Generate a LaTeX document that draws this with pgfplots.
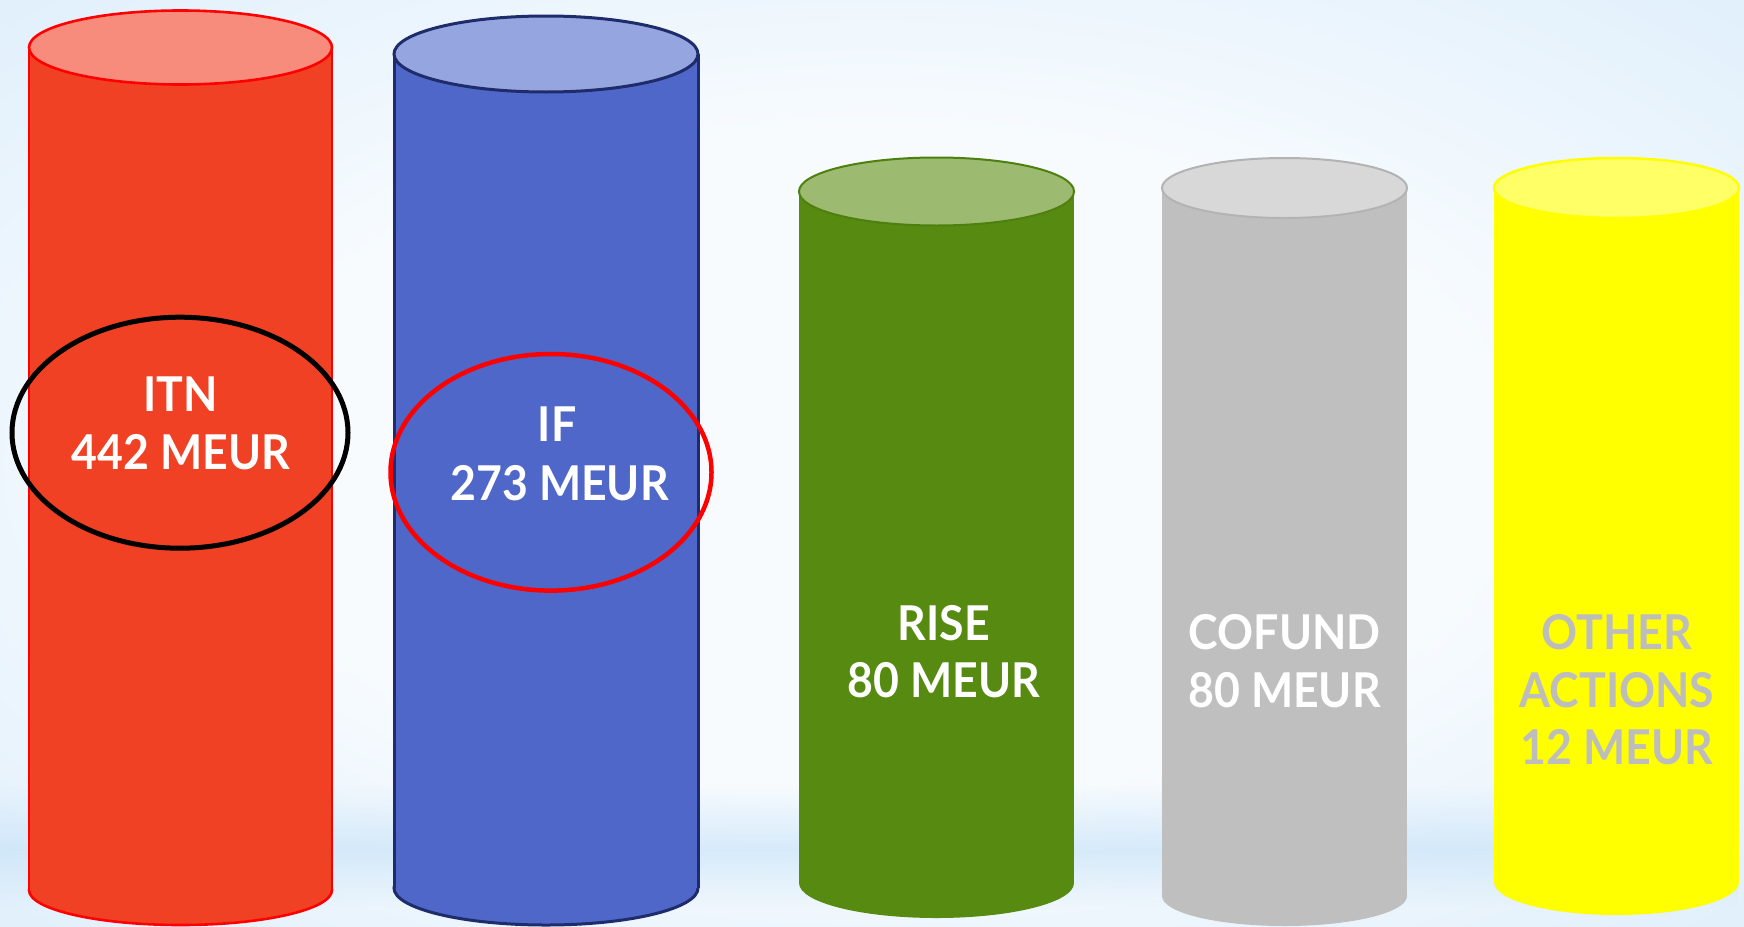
\documentclass[border=0pt]{standalone}
\usepackage{pgfplots}
\pgfplotsset{compat=1.18}
\usetikzlibrary{fadings}
\usepackage{fontspec}
\setmainfont{Lato}[FakeStretch=0.93]
\definecolor{itnfill}{HTML}{F04124}
\definecolor{itntop}{HTML}{F78C7C}
\definecolor{itnline}{HTML}{FF0000}
\definecolor{iffill}{HTML}{4F67C8}
\definecolor{iftop}{HTML}{95A5DF}
\definecolor{ifline}{HTML}{1F2C6B}
\definecolor{risefill}{HTML}{578A10}
\definecolor{risetop}{HTML}{9CBB70}
\definecolor{riseline}{HTML}{4F7F0E}
\definecolor{cofill}{HTML}{BFBFBF}
\definecolor{cotop}{HTML}{D8D8D8}
\definecolor{coline}{HTML}{B3B3B3}
\definecolor{otfill}{HTML}{FFFF00}
\definecolor{ottop}{HTML}{FFFF66}
\definecolor{bgblue}{HTML}{C4E1F8}
\definecolor{bgwhite}{HTML}{F7FBFE}
\definecolor{othertext}{HTML}{BDBDBD}
\pgfdeclareradialshading{bgshade}{\pgfpoint{0bp}{0bp}}{color(0bp)=(bgwhite); color(18bp)=(bgwhite); color(36bp)=(bgwhite!55!bgblue); color(48bp)=(bgblue)}
\tikzset{lbl/.style={font=\fontsize{48}{58}\selectfont\bfseries, text=white, anchor=base, inner sep=0pt}}
\begin{document}
\begin{tikzpicture}
\shade[shading=bgshade] (0,0) rectangle (1744pt,926pt);
\fill[bgblue, opacity=0.6, path fading=north] (0,76pt) rectangle (1744pt,140pt);
\fill[bgblue, opacity=0.6, path fading=south] (0,20pt) rectangle (1744pt,76pt);
\begin{axis}[
  width=1744pt, height=926pt, scale only axis,
  xmin=0, xmax=1744, ymin=0, ymax=926, y dir=reverse,
  hide axis, clip=false,
]
% ---- ITN (442 MEUR)
\draw[fill=itnfill, draw=itnline, line width=2.6pt] (axis cs:180.5,890) ellipse [x radius=151.5, y radius=35];
\addplot[fill=itnfill, draw=none] coordinates {(29,47.5) (29,890) (332,890) (332,47.5)};
\addplot[itnline, line width=2.6pt] coordinates {(29,47.5) (29,890)};
\addplot[itnline, line width=2.6pt] coordinates {(332,47.5) (332,890)};
\draw[fill=itntop, draw=itnline, line width=2.6pt] (axis cs:180.5,47.5) ellipse [x radius=151.5, y radius=37];
% ---- IF (273 MEUR)
\draw[fill=iffill, draw=ifline, line width=3pt] (axis cs:546,888) ellipse [x radius=152, y radius=37];
\addplot[fill=iffill, draw=none] coordinates {(394,54) (394,888) (698,888) (698,54)};
\addplot[ifline, line width=3pt] coordinates {(394,54) (394,888)};
\addplot[ifline, line width=3pt] coordinates {(698,54) (698,888)};
\draw[fill=iftop, draw=ifline, line width=3pt] (axis cs:546,54) ellipse [x radius=152, y radius=38];
% ---- RISE (80 MEUR)
\draw[fill=risefill, draw=none] (axis cs:936.5,883) ellipse [x radius=137.5, y radius=35];
\addplot[fill=risefill, draw=none] coordinates {(799,191.5) (799,883) (1074,883) (1074,191.5)};
\draw[fill=risetop, draw=riseline, line width=2pt] (axis cs:936.5,191.5) ellipse [x radius=137.5, y radius=34];
% ---- COFUND (80 MEUR)
\draw[fill=cofill, draw=none] (axis cs:1284.5,896) ellipse [x radius=122.5, y radius=30];
\addplot[fill=cofill, draw=none] coordinates {(1162,188) (1162,896) (1407,896) (1407,188)};
\draw[fill=cotop, draw=coline, line width=2pt] (axis cs:1284.5,188) ellipse [x radius=122.5, y radius=30];
% ---- OTHER ACTIONS (12 MEUR)
\draw[fill=otfill, draw=none] (axis cs:1616.5,882) ellipse [x radius=122.5, y radius=33];
\addplot[fill=otfill, draw=none] coordinates {(1494,188) (1494,882) (1739,882) (1739,188)};
\draw[fill=ottop, draw=otfill, line width=2.5pt] (axis cs:1616.5,188) ellipse [x radius=122.5, y radius=30];
% ---- highlight ellipses
\draw[black, line width=5pt] (axis cs:180,432.7) ellipse [x radius=168, y radius=115.5];
\draw[red, line width=4.5pt] (axis cs:551,472.3) ellipse [x radius=160.5, y radius=118.3];
% ---- labels
\node[lbl] at (axis cs:180.5,411.7) {ITN};
\node[lbl] at (axis cs:181,469) {442 MEUR};
\node[lbl] at (axis cs:557,441.7) {IF};
\node[lbl] at (axis cs:559.7,500) {273 MEUR};
\node[lbl] at (axis cs:944,640.6) {RISE};
\node[lbl] at (axis cs:944,697.4) {80 MEUR};
\node[lbl] at (axis cs:1284.6,649.5) {COFUND};
\node[lbl] at (axis cs:1284.6,707.4) {80 MEUR};
\node[lbl, text=othertext] at (axis cs:1617,649.5) {OTHER};
\node[lbl, text=othertext] at (axis cs:1617,707.4) {ACTIONS};
\node[lbl, text=othertext] at (axis cs:1617,764) {12 MEUR};
\end{axis}
\pgfresetboundingbox
\path[use as bounding box] (0,0) rectangle (1744pt,926pt);
\end{tikzpicture}
\end{document}
